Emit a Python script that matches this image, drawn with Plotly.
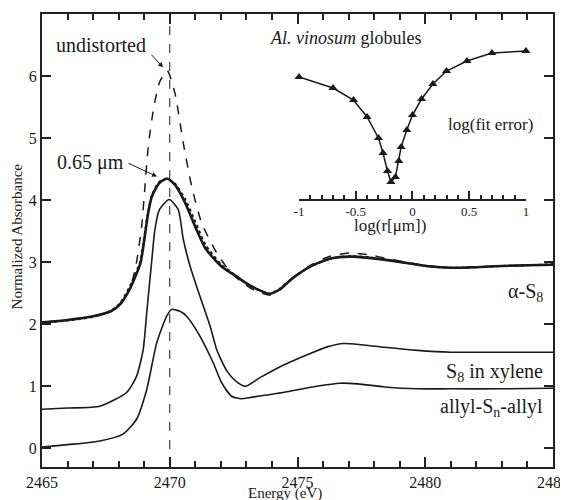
import plotly.graph_objects as go

# ---- main spectra (Energy in eV, normalized absorbance with offsets) ----
E_fit = [2465, 2466, 2467, 2467.7, 2468.05, 2468.45, 2468.85, 2469.0, 2469.15, 2469.3, 2469.6, 2469.9,
         2470.2, 2470.6, 2471.0, 2471.4, 2472.0, 2472.5, 2473.0, 2473.5, 2473.9, 2474.3, 2474.8, 2475.5,
         2476.3, 2477.05, 2477.8, 2478.6, 2479.4, 2480.2, 2481, 2482, 2483, 2484, 2485]
A_fit = [2.03, 2.07, 2.13, 2.21, 2.32, 2.58, 2.98, 3.35, 3.78, 4.06, 4.28, 4.35,
         4.25, 3.96, 3.57, 3.22, 2.94, 2.80, 2.66, 2.55, 2.49, 2.56, 2.74, 2.93,
         3.06, 3.09, 3.07, 3.03, 2.98, 2.93, 2.91, 2.92, 2.94, 2.95, 2.96]
A_data = [2.02, 2.06, 2.12, 2.22, 2.34, 2.62, 3.02, 3.40, 3.80, 4.08, 4.30, 4.34,
          4.27, 4.02, 3.65, 3.28, 2.97, 2.81, 2.66, 2.55, 2.49, 2.57, 2.74, 2.93,
          3.06, 3.10, 3.08, 3.03, 2.98, 2.93, 2.91, 2.92, 2.94, 2.95, 2.97]

E_und = [2465, 2466, 2467, 2467.7, 2468.05, 2468.45, 2468.7, 2468.9, 2469.03, 2469.16, 2469.36, 2469.6,
         2469.9, 2470.2, 2470.53, 2470.86, 2471.25, 2471.84, 2472.3, 2472.8, 2473.3, 2473.9, 2474.3,
         2474.8, 2475.5, 2476.3, 2477.05, 2477.8, 2478.6, 2479.4, 2480.2, 2481, 2482, 2483, 2484, 2485]
A_und = [2.03, 2.07, 2.13, 2.21, 2.31, 2.58, 3.00, 3.58, 4.22, 4.87, 5.46, 5.90,
         6.09, 5.73, 4.92, 4.22, 3.63, 3.15, 2.88, 2.68, 2.55, 2.47, 2.55,
         2.74, 2.95, 3.10, 3.15, 3.12, 3.05, 2.99, 2.94, 2.91, 2.92, 2.94, 2.95, 2.96]

E_xyl = [2465, 2466, 2467.27, 2468.31, 2468.7, 2468.96, 2469.1, 2469.29, 2469.42, 2469.6, 2469.98,
         2470.33, 2470.53, 2470.8, 2471.18, 2471.58, 2471.84, 2472.23, 2472.6, 2472.95, 2473.53,
         2474.44, 2475.5, 2476.2, 2476.8, 2477.5, 2478.4, 2479.7, 2481.0, 2483, 2485]
A_xyl = [0.63, 0.65, 0.68, 0.90, 1.16, 1.59, 2.19, 3.00, 3.53, 3.85, 4.01,
         3.85, 3.37, 2.93, 2.45, 1.97, 1.59, 1.25, 1.08, 1.00, 1.14,
         1.34, 1.53, 1.64, 1.69, 1.67, 1.63, 1.58, 1.55, 1.55, 1.55]

E_all = [2465, 2466, 2467.27, 2468.17, 2468.7, 2469.1, 2469.49, 2469.88, 2470.07, 2470.4, 2470.66,
         2471.18, 2471.7, 2472.03, 2472.42, 2472.8, 2473.14, 2474.44, 2475.75, 2476.66, 2477.35,
         2478.4, 2479.7, 2481, 2483, 2485]
A_all = [0.02, 0.06, 0.12, 0.23, 0.47, 0.95, 1.70, 2.13, 2.24, 2.21, 2.13,
         1.81, 1.38, 1.06, 0.84, 0.80, 0.82, 0.90, 1.00, 1.05, 1.04,
         0.99, 0.96, 0.96, 0.96, 0.97]

PEAK_E = 2470

# ---- inset: fit error vs particle radius ----
log_r = [-1.0, -0.70, -0.52, -0.40, -0.30, -0.26, -0.22, -0.19, -0.15, -0.12, -0.10, -0.05,
         0.0, 0.08, 0.18, 0.30, 0.48, 0.70, 1.0]
log_err = [1.22, 1.11, 0.99, 0.82, 0.61, 0.46, 0.28, 0.17, 0.22, 0.38, 0.52, 0.69,
           0.84, 1.00, 1.15, 1.28, 1.38, 1.46, 1.48]
inset_ticks = [-1, -0.5, 0, 0.5, 1]
inset_ticktext = ["-1", "-0.5", "0", "0.5", "1"]

FONT = "Liberation Serif"
INK = "#1a1a1a"
AX = "#222"

fig = go.Figure()
fig.add_trace(go.Scatter(x=E_und, y=A_und, mode="lines",
                         line=dict(color=INK, width=1.5, dash="dash", shape="spline", smoothing=0.6)))
fig.add_trace(go.Scatter(x=E_fit, y=A_fit, mode="lines",
                         line=dict(color=INK, width=2.6, shape="spline", smoothing=0.6)))
fig.add_trace(go.Scatter(x=E_fit, y=A_data, mode="lines",
                         line=dict(color=INK, width=2, dash="dot", shape="spline", smoothing=0.6)))
fig.add_trace(go.Scatter(x=E_xyl, y=A_xyl, mode="lines",
                         line=dict(color=INK, width=1.6, shape="spline", smoothing=0.6)))
fig.add_trace(go.Scatter(x=E_all, y=A_all, mode="lines",
                         line=dict(color=INK, width=1.6, shape="spline", smoothing=0.6)))
# carrier trace for the top (mirrored) tick axis
fig.add_trace(go.Scatter(x=E_fit, y=A_fit, mode="lines", xaxis="x3", yaxis="y",
                         line=dict(color="rgba(0,0,0,0)", width=0), hoverinfo="skip"))
fig.add_trace(go.Scatter(x=log_r, y=log_err, mode="lines+markers", xaxis="x2", yaxis="y2",
                         cliponaxis=False,
                         line=dict(color=INK, width=1.5),
                         marker=dict(symbol="triangle-up", size=8, color=INK)))

fig.add_vline(x=PEAK_E, line=dict(color=INK, width=1, dash="dash"))

axis_common = dict(showline=True, linecolor=AX, linewidth=2, ticks="inside",
                   tickcolor=AX, tickwidth=1.8, showgrid=False, zeroline=False, automargin=False,
                   tickfont=dict(family=FONT, size=16, color=INK))

fig.update_layout(
    width=568, height=500,
    margin=dict(l=34, r=23, t=6, b=41),
    paper_bgcolor="white", plot_bgcolor="white",
    showlegend=False,
    font=dict(family=FONT, color=INK),
    xaxis=dict(range=[2465, 2485], dtick=5, ticklen=10,
               minor=dict(dtick=1, ticks="inside", ticklen=6, tickcolor=AX, tickwidth=1.5),
               **axis_common),
    xaxis3=dict(range=[2465, 2485], dtick=5, ticklen=10, overlaying="x", side="top", anchor="y",
                showticklabels=False,
                minor=dict(dtick=1, ticks="inside", ticklen=6, tickcolor=AX, tickwidth=1.5),
                **axis_common),
    yaxis=dict(range=[-0.3, 7], dtick=1, ticklen=9, mirror="ticks", **axis_common),
    xaxis2=dict(domain=[0.503, 0.947], anchor="y2", range=[-1, 1], automargin=False,
                tickvals=inset_ticks, ticktext=inset_ticktext,
                showline=True, linecolor=AX, linewidth=1.5, ticks="inside", ticklen=8,
                tickcolor=AX, tickwidth=1.5, showgrid=False, zeroline=False,
                minor=dict(dtick=0.1, ticks="inside", ticklen=4, tickcolor=AX),
                tickfont=dict(family=FONT, size=13, color=INK)),
    yaxis2=dict(domain=[0.5916, 0.9448], anchor="x2", range=[0, 1.6], visible=False),
)

def txt(text, x, y, size=20, xanchor="center", **kw):
    fig.add_annotation(text=text, x=x, y=y, xref="paper", yref="paper", showarrow=False,
                       xanchor=xanchor, yanchor="middle",
                       font=dict(family=FONT, size=size, color=INK), **kw)

txt("undistorted", 0.1155, 0.9316)
txt("0.65 μm", 0.094, 0.673)
txt("<i>Al. vinosum</i> globules", 0.442, 0.947, size=18, xanchor="left")
txt("α-S<sub>8</sub>", 0.984, 0.385, xanchor="right")
txt("S<sub>8</sub> in xylene", 0.984, 0.208, xanchor="right")
txt("allyl-S<sub>n</sub>-allyl", 0.984, 0.131, xanchor="right")
txt("log(fit error)", 0.877, 0.755, size=17)
txt("log(r[μm])", 0.681, 0.534, size=17)
txt("Energy (eV)", 0.4755, 0.0, size=15, yshift=-26)
txt("Normalized Absorbance", 0.0, 0.509, size=15, xshift=-25, textangle=-90)

# arrows
fig.add_annotation(x=2469.74, y=6.14, xref="x", yref="y", text="", showarrow=True,
                   ax=-13, ay=-14, arrowhead=2, arrowsize=1, arrowwidth=1, arrowcolor=INK)
fig.add_annotation(x=2469.5, y=4.38, xref="x", yref="y", text="", showarrow=True,
                   ax=-30, ay=-14, arrowhead=2, arrowsize=1, arrowwidth=1, arrowcolor=INK)

fig.write_html("out.html")
